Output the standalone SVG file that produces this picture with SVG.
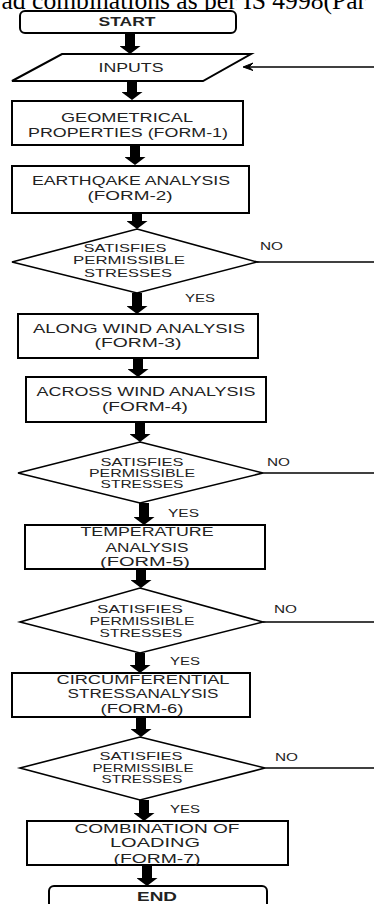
<svg xmlns="http://www.w3.org/2000/svg" width="374" height="904" viewBox="0 0 374 904">
<style>
.box{fill:#fff;stroke:#000;stroke-width:2}
.dia{fill:#fff;stroke:#000;stroke-width:1.6}
.t{font-family:"Liberation Sans",Arial,sans-serif;font-size:12px;fill:#222;text-anchor:middle}
.b{font-weight:bold}
.d{font-size:11px}
.s{font-family:"Liberation Sans",Arial,sans-serif;font-size:10px;fill:#222}
.arr{stroke:#000;stroke-width:10;marker-end:url(#head)}
.ln{stroke:#000;stroke-width:1.4;fill:none}
</style>
<defs>
<marker id="head" viewBox="0 0 8 21" refX="0" refY="10.5" markerWidth="8" markerHeight="21" orient="auto" markerUnits="userSpaceOnUse">
<path d="M0,0 L8,10.5 L0,21 Z" fill="#000"/>
</marker>
</defs>
<rect width="374" height="904" fill="#fff"/>
<text x="1.5" y="9" font-family="Liberation Serif,Times New Roman,serif" font-size="25.6" fill="#000">ad combinations as per IS 4998(Par</text>

<g id="connectors">
<line class="arr" x1="130" y1="33" x2="130" y2="46"/>
<line class="arr" x1="132" y1="81" x2="132" y2="92"/>
<line class="arr" x1="135" y1="145" x2="135" y2="157"/>
<line class="arr" x1="137" y1="213" x2="137" y2="221"/>
<line class="arr" x1="137" y1="293" x2="137" y2="306"/>
<line class="arr" x1="138" y1="358" x2="138" y2="369"/>
<line class="arr" x1="140" y1="422" x2="140" y2="434"/>
<line class="arr" x1="144" y1="503" x2="144" y2="517"/>
<line class="arr" x1="141" y1="569" x2="141" y2="580"/>
<line class="arr" x1="140" y1="653" x2="140" y2="665"/>
<line class="arr" x1="141" y1="717" x2="141" y2="729"/>
<line class="arr" x1="144" y1="800" x2="144" y2="813"/>
<line class="arr" x1="147" y1="865" x2="147" y2="878"/>
<line class="ln" x1="374" y1="67" x2="244" y2="67"/>
<path d="M253,63 L243,67 L253,70.5 L249,67 Z" fill="#000" stroke="#000" stroke-width="1"/>
<line class="ln" x1="257" y1="262" x2="374" y2="262"/>
<line class="ln" x1="263" y1="473" x2="374" y2="473"/>
<line class="ln" x1="263" y1="622" x2="374" y2="622"/>
<line class="ln" x1="265" y1="768" x2="374" y2="768"/>
<text class="s" x="260" y="250" textLength="23" lengthAdjust="spacingAndGlyphs">NO</text>
<text class="s" x="185" y="302" textLength="30" lengthAdjust="spacingAndGlyphs">YES</text>
<text class="s" x="267" y="466" textLength="23" lengthAdjust="spacingAndGlyphs">NO</text>
<text class="s" x="168" y="517" textLength="31" lengthAdjust="spacingAndGlyphs">YES</text>
<text class="s" x="274" y="613" textLength="23" lengthAdjust="spacingAndGlyphs">NO</text>
<text class="s" x="170" y="665" textLength="30" lengthAdjust="spacingAndGlyphs">YES</text>
<text class="s" x="275" y="761" textLength="23" lengthAdjust="spacingAndGlyphs">NO</text>
<text class="s" x="170" y="813" textLength="30" lengthAdjust="spacingAndGlyphs">YES</text>
</g>

<g id="start">
<rect class="box" x="20" y="11" width="216" height="22" rx="5"/>
<text class="t b" x="127" y="26" textLength="57" lengthAdjust="spacingAndGlyphs">START</text>
</g>
<g id="inputs">
<polygon class="box" points="62,54 251,54 203,81 12,81"/>
<text class="t" x="131" y="72" textLength="65" lengthAdjust="spacingAndGlyphs">INPUTS</text>
</g>
<g id="geom">
<rect class="box" x="12" y="101" width="231" height="44"/>
<text class="t" x="127" y="122" textLength="132" lengthAdjust="spacingAndGlyphs">GEOMETRICAL</text>
<text class="t" x="128" y="137" textLength="200" lengthAdjust="spacingAndGlyphs">PROPERTIES (FORM-1)</text>
</g>
<g id="earthquake">
<rect class="box" x="12" y="166" width="237" height="47"/>
<text class="t" x="131" y="185" textLength="198" lengthAdjust="spacingAndGlyphs">EARTHQAKE ANALYSIS</text>
<text class="t" x="130" y="200" textLength="85" lengthAdjust="spacingAndGlyphs">(FORM-2)</text>
</g>
<g id="check1">
<polygon class="dia" points="137,229 257,262 137,293 12,262"/>
<text class="t d" x="125" y="252" textLength="83" lengthAdjust="spacingAndGlyphs">SATISFIES</text>
<text class="t d" x="129" y="264" textLength="112" lengthAdjust="spacingAndGlyphs">PERMISSIBLE</text>
<text class="t d" x="128" y="277" textLength="88" lengthAdjust="spacingAndGlyphs">STRESSES</text>
</g>
<g id="alongwind">
<rect class="box" x="18" y="314" width="240" height="44"/>
<text class="t" x="139" y="333" textLength="212" lengthAdjust="spacingAndGlyphs">ALONG WIND ANALYSIS</text>
<text class="t" x="138" y="347" textLength="87" lengthAdjust="spacingAndGlyphs">(FORM-3)</text>
</g>
<g id="acrosswind">
<rect class="box" x="26" y="377" width="240" height="45"/>
<text class="t" x="146" y="396" textLength="219" lengthAdjust="spacingAndGlyphs">ACROSS WIND ANALYSIS</text>
<text class="t" x="145" y="411" textLength="86" lengthAdjust="spacingAndGlyphs">(FORM-4)</text>
</g>
<g id="check2">
<polygon class="dia" points="140,442 263,473 140,503 18,473"/>
<text class="t d" x="142" y="466" textLength="83" lengthAdjust="spacingAndGlyphs">SATISFIES</text>
<text class="t d" x="142" y="477" textLength="106" lengthAdjust="spacingAndGlyphs">PERMISSIBLE</text>
<text class="t d" x="142" y="488" textLength="83" lengthAdjust="spacingAndGlyphs">STRESSES</text>
</g>
<g id="temperature">
<rect class="box" x="25" y="525" width="240" height="44"/>
<text class="t" x="147" y="536" textLength="133" lengthAdjust="spacingAndGlyphs">TEMPERATURE</text>
<text class="t" x="147" y="552" textLength="83" lengthAdjust="spacingAndGlyphs">ANALYSIS</text>
<text class="t" x="145" y="566" textLength="90" lengthAdjust="spacingAndGlyphs">(FORM-5)</text>
</g>
<g id="check3">
<polygon class="dia" points="140,588 263,622 140,653 20,622"/>
<text class="t d" x="140" y="613" textLength="86" lengthAdjust="spacingAndGlyphs">SATISFIES</text>
<text class="t d" x="142" y="625" textLength="105" lengthAdjust="spacingAndGlyphs">PERMISSIBLE</text>
<text class="t d" x="141" y="637" textLength="83" lengthAdjust="spacingAndGlyphs">STRESSES</text>
</g>
<g id="circumferential">
<rect class="box" x="12" y="673" width="238" height="44"/>
<text class="t" x="143" y="684" textLength="173" lengthAdjust="spacingAndGlyphs">CIRCUMFERENTIAL</text>
<text class="t" x="143" y="698" textLength="151" lengthAdjust="spacingAndGlyphs">STRESSANALYSIS</text>
<text class="t" x="142" y="713" textLength="83" lengthAdjust="spacingAndGlyphs">(FORM-6)</text>
</g>
<g id="check4">
<polygon class="dia" points="140,737 265,768 140,800 20,768"/>
<text class="t d" x="141" y="760" textLength="83" lengthAdjust="spacingAndGlyphs">SATISFIES</text>
<text class="t d" x="143" y="772" textLength="101" lengthAdjust="spacingAndGlyphs">PERMISSIBLE</text>
<text class="t d" x="142" y="783" textLength="81" lengthAdjust="spacingAndGlyphs">STRESSES</text>
</g>
<g id="combination">
<rect class="box" x="27" y="821" width="261" height="44"/>
<text class="t" x="157" y="833" textLength="165" lengthAdjust="spacingAndGlyphs">COMBINATION OF</text>
<text class="t" x="155" y="847" textLength="90" lengthAdjust="spacingAndGlyphs">LOADING</text>
<text class="t" x="157" y="863" textLength="87" lengthAdjust="spacingAndGlyphs">(FORM-7)</text>
</g>
<g id="end">
<rect class="box" x="49" y="886" width="218" height="30" rx="5"/>
<text class="t b" x="157" y="901" textLength="40" lengthAdjust="spacingAndGlyphs">END</text>
</g>
</svg>
